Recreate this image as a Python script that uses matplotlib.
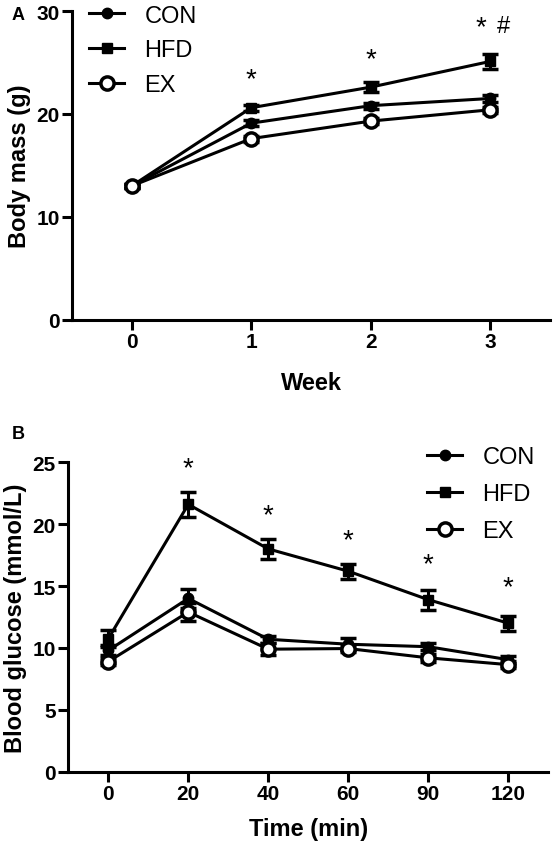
import numpy as np
import matplotlib.pyplot as plt

plt.rcParams['font.family'] = ['Liberation Sans', 'DejaVu Sans']

# Panel A: body mass
weeks = [0, 1, 2, 3]
mass_con = [13.0, 19.1, 20.8, 21.5]
mass_hfd = [13.0, 20.6, 22.6, 25.1]
mass_ex = [13.0, 17.6, 19.3, 20.4]
mass_con_err = [0.2, 0.3, 0.3, 0.3]
mass_hfd_err = [0.2, 0.3, 0.5, 0.7]
mass_ex_err = [0.2, 0.3, 0.3, 0.3]
mass_star = [(1, 23.4), (2, 25.3), (2.92, 28.4)]
mass_hash = [(3.11, 28.5)]

# Panel B: glucose tolerance
times = ['0', '20', '40', '60', '90', '120']
glu_con = [9.8, 14.0, 10.7, 10.3, 10.1, 9.05]
glu_hfd = [10.75, 21.6, 18.0, 16.2, 13.9, 12.0]
glu_ex = [8.9, 12.9, 9.9, 9.95, 9.2, 8.65]
glu_con_err = [0.4, 0.8, 0.3, 0.5, 0.3, 0.3]
glu_hfd_err = [0.7, 1.0, 0.8, 0.6, 0.8, 0.6]
glu_ex_err = [0.3, 0.7, 0.5, 0.3, 0.3, 0.3]
glu_star = [(1, 24.5), (2, 20.7), (3, 18.7), (4, 16.8), (5, 14.9)]

series_style = [
    ('CON', dict(marker='o', ms=7.5, mfc='black')),
    ('HFD', dict(marker='s', ms=7.5, mfc='black')),
    ('EX', dict(marker='o', ms=9.5, mfc='white', mew=2.5)),
]


def style_axes(ax):
    for s in ['top', 'right']:
        ax.spines[s].set_visible(False)
    for s in ['left', 'bottom']:
        ax.spines[s].set_linewidth(2.2)
    ax.tick_params(width=2.2, length=7, labelsize=15, pad=2)
    for lab in ax.get_xticklabels() + ax.get_yticklabels():
        lab.set_fontweight('bold')


def draw(ax, x, ys, errs):
    handles = []
    for (name, st), y, e in zip(series_style, ys, errs):
        ax.errorbar(x, y, yerr=e, fmt='none', ecolor='black', elinewidth=2.2,
                    capsize=5.5, capthick=2.5)
        h, = ax.plot(x, y, color='black', mec='black', lw=2.2, label=name, **st)
        handles.append(h)
    return handles


fig = plt.figure(figsize=(5.53, 8.45), dpi=100)

# panel A
axA = fig.add_axes([72 / 553, 1 - 320.7 / 845, 478 / 553, 308.7 / 845])
hA = draw(axA, weeks, [mass_con, mass_hfd, mass_ex], [mass_con_err, mass_hfd_err, mass_ex_err])
axA.set_xlim(-0.5, 3.5)
axA.set_ylim(0, 30)
axA.set_xticks(weeks)
axA.set_yticks([0, 10, 20, 30])
axA.set_xlabel('Week', fontsize=17, fontweight='bold', labelpad=14)
axA.set_ylabel('Body mass (g)', fontsize=17, fontweight='bold', labelpad=4)
for x, y in mass_star:
    axA.text(x, y, '*', ha='center', va='center', fontsize=20)
for x, y in mass_hash:
    axA.text(x, y, '#', ha='center', va='center', fontsize=17)
style_axes(axA)
fig.legend(handles=hA, loc='upper left', bbox_to_anchor=(89 / 553, 1 - 5.5 / 845),
           frameon=False, fontsize=17, borderpad=0, borderaxespad=0,
           handlelength=1.5, labelspacing=0.55, handletextpad=0.85)
fig.text(12 / 553, 1 - 15 / 845, 'A', fontsize=13, fontweight='bold', va='center')

# panel B
axB = fig.add_axes([68.3 / 553, 1 - 772.7 / 845, 480 / 553, 309.4 / 845])
xb = np.arange(len(times))
hB = draw(axB, xb, [glu_con, glu_hfd, glu_ex], [glu_con_err, glu_hfd_err, glu_ex_err])
axB.set_xlim(-0.5, 5.5)
axB.set_ylim(0, 25)
axB.set_xticks(xb)
axB.set_xticklabels(times)
axB.set_yticks([0, 5, 10, 15, 20, 25])
axB.set_xlabel('Time (min)', fontsize=17, fontweight='bold', labelpad=10)
axB.set_ylabel('Blood glucose (mmol/L)', fontsize=17, fontweight='bold', labelpad=4)
for x, y in glu_star:
    axB.text(x, y, '*', ha='center', va='center', fontsize=20)
style_axes(axB)
fig.legend(handles=hB, loc='upper left', bbox_to_anchor=(427 / 553, 1 - 447 / 845),
           frameon=False, fontsize=17, borderpad=0, borderaxespad=0,
           handlelength=1.5, labelspacing=0.64, handletextpad=0.85)
fig.text(12 / 553, 1 - 435 / 845, 'B', fontsize=13, fontweight='bold', va='center')

fig.savefig('out.png', dpi=100)
